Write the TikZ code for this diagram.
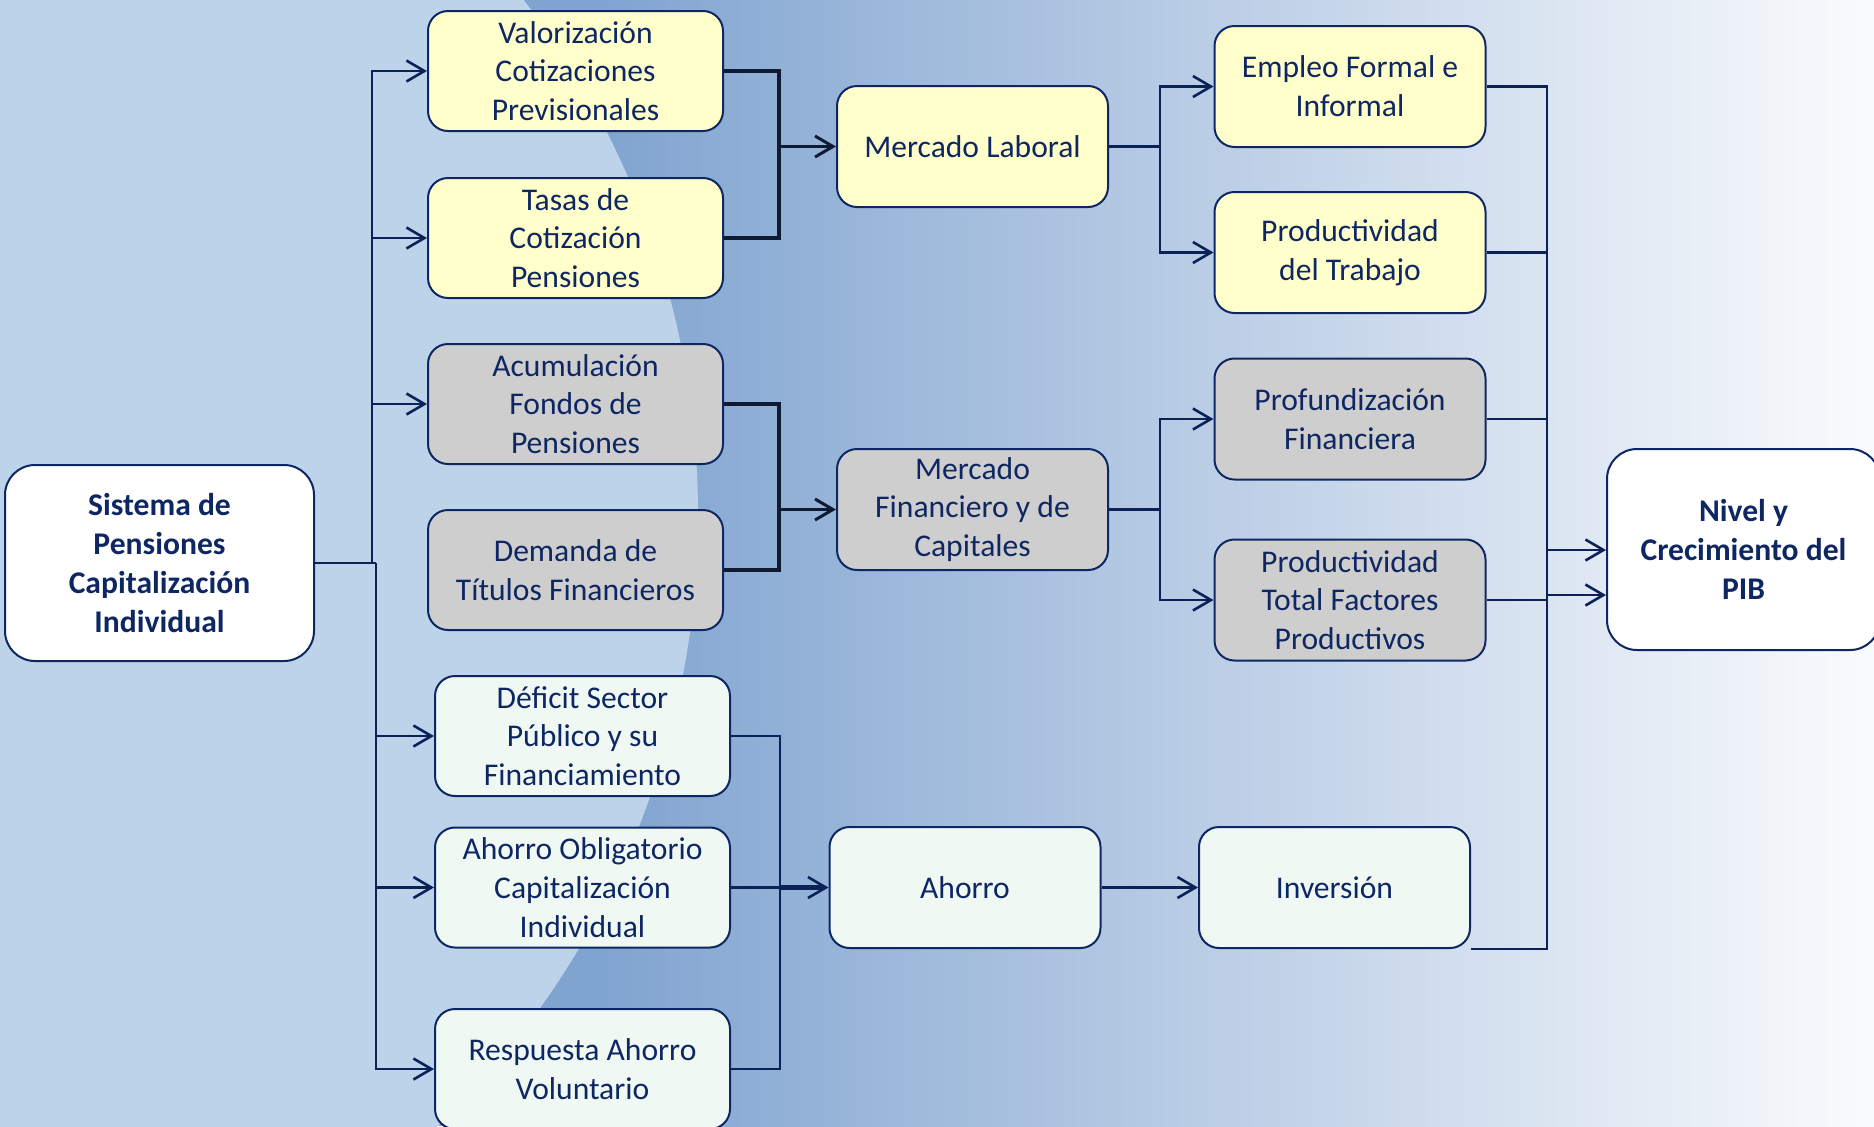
\documentclass[tikz,border=0pt]{standalone}
\usepackage{fontspec}
\setmainfont{Carlito}
\usetikzlibrary{arrows.meta}
\definecolor{navy}{HTML}{0E2763}
\definecolor{linecol}{HTML}{0B2259}
\definecolor{darkcol}{HTML}{0F1A33}
\definecolor{yellowfill}{HTML}{FFFFCB}
\definecolor{greyfill}{HTML}{CECECE}
\definecolor{mintfill}{HTML}{EFF8F3}
\definecolor{globe}{HTML}{BDD3EA}
\definecolor{bgdark}{HTML}{80A4D0}
\definecolor{bgmid}{HTML}{BFD0E8}
\definecolor{bglight}{HTML}{FAFBFD}
\begin{document}
\begin{tikzpicture}[x=0.5pt, y=-0.5pt]
		\tikzset{bx/.style={rectangle, rounded corners=10pt, draw=navy, line width=1pt, text=navy, align=center, font=\fontsize{15.8}{19.4}\selectfont, minimum width=147.5pt, minimum height=60pt, inner sep=1pt},
			yb/.style={bx, fill=yellowfill},
			gb/.style={bx, fill=greyfill},
			mb/.style={bx, fill=mintfill},
			mid/.style={minimum width=135.5pt, minimum height=60.5pt},
			big/.style={bx, fill=white, rounded corners=15pt, font=\fontsize{15.8}{19.4}\selectfont\bfseries},
			ln/.style={draw=linecol, line width=1.4pt},
			dk/.style={draw=darkcol, line width=1.6pt},
			arr/.style={ln, -{Straight Barb[length=9pt, width=10.5pt, line width=1.3pt]}},
			darr/.style={dk, -{Straight Barb[length=9pt, width=10.5pt, line width=1.5pt]}}};

		\useasboundingbox (0,0) rectangle (1874,1126);
		\begin{scope}
			\clip (0,0) rectangle (1874,1126);
			\fill[bgdark] (0,0) rectangle (600,1126);
			\shade[left color=bgdark, middle color=bgmid, right color=bglight] (600,0) rectangle (1874,1126);
			\fill[globe] (-150,515) circle (848);
		\end{scope}

		\node[big, minimum width=154.5pt, minimum height=98pt] (sistema) at (159.5,563) {Sistema de\\Pensiones\\Capitalización\\Individual};
		\node[yb] (valor) at (575.5,71) {Valorización\\Cotizaciones\\Previsionales};
		\node[yb] (tasas) at (575.5,238) {Tasas de\\Cotización\\Pensiones};
		\node[gb] (acum) at (575.5,404) {Acumulación\\Fondos de\\Pensiones};
		\node[gb] (demanda) at (575.5,570) {Demanda de\\Títulos Financieros};
		\node[mb] (deficit) at (582.5,736) {Déficit Sector\\Público y su\\Financiamiento};
		\node[mb] (oblig) at (582.5,887.5) {Ahorro Obligatorio\\Capitalización\\Individual};
		\node[mb] (respuesta) at (582.5,1069) {Respuesta Ahorro\\Voluntario};
		\node[yb, mid] (laboral) at (972.5,146.5) {Mercado Laboral};
		\node[gb, mid] (financ) at (972.5,509.5) {Mercado\\Financiero y de\\Capitales};
		\node[mb, mid] (ahorro) at (965,887.5) {Ahorro};
		\node[mb, mid] (inversion) at (1334.5,887.5) {Inversión};
		\node[yb, mid] (empleo) at (1350,86.5) {Empleo Formal e\\Informal};
		\node[yb, mid] (prodtrab) at (1350,252.5) {Productividad\\del Trabajo};
		\node[gb, mid] (profund) at (1350,419) {Profundización\\Financiera};
		\node[gb, mid] (ptf) at (1350,600) {Productividad\\Total Factores\\Productivos};
		\node[big, minimum width=136.5pt, minimum height=100.5pt] (nivel) at (1743.5,549.5) {Nivel y\\Crecimiento del\\PIB};

		\coordinate (ju) at (372,563);
		\coordinate (jd) at (376,563);
		\coordinate (jlab) at (779,146.5);
		\coordinate (jfin) at (779,509.5);
		\coordinate (jaho) at (780,887.5);
		\coordinate (jlabr) at (1160,146.5);
		\coordinate (jfinr) at (1160,509.5);
		\coordinate (tr1) at (1547,550);
		\coordinate (tr2) at (1547,595);

		\draw[ln] (sistema.east) -- (jd);
		\draw[arr] (ju) |- (valor);
		\draw[arr] (ju) |- (tasas);
		\draw[arr] (ju) |- (acum);
		\draw[arr] (jd) |- (deficit);
		\draw[arr] (jd) |- (oblig);
		\draw[arr] (jd) |- (respuesta);

		\draw[dk] (valor.east) -| (jlab);
		\draw[dk] (tasas.east) -| (jlab);
		\draw[darr] (jlab) -- (laboral);

		\draw[dk] (acum.east) -| (jfin);
		\draw[dk] (demanda.east) -| (jfin);
		\draw[darr] (jfin) -- (financ);

		\draw[ln] (deficit.east) -| (jaho);
		\draw[ln] (respuesta.east) -| (jaho);
		\draw[ln] (oblig) -- (jaho);
		\draw[arr, line width=2.4pt] (jaho) -- (ahorro);
		\draw[arr] (ahorro) -- (inversion);

		\draw[ln] (laboral) -- (jlabr);
		\draw[arr] (jlabr) |- (empleo);
		\draw[arr] (jlabr) |- (prodtrab);

		\draw[ln] (financ) -- (jfinr);
		\draw[arr] (jfinr) |- (profund);
		\draw[arr] (jfinr) |- (ptf);

		\draw[ln] (empleo.east) -| (tr1);
		\draw[ln] (prodtrab.east) -| (tr1);
		\draw[ln] (profund.east) -| (tr1);
		\draw[ln] (ptf.east) -| (tr2);
		\draw[ln] (inversion.south east) -| (tr2);
		\draw[ln] (tr1) -- (tr2);
		\draw[arr] (tr1) -- (tr1 -| nivel.west);
		\draw[arr] (tr2) -- (tr2 -| nivel.west);

	\end{tikzpicture}
\end{document}
